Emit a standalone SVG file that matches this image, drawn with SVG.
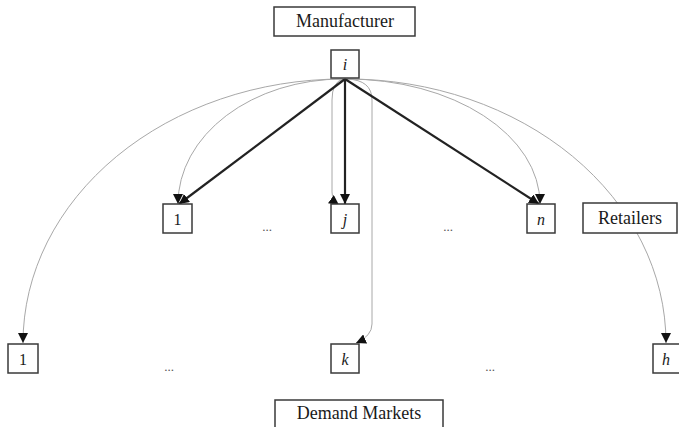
<svg xmlns="http://www.w3.org/2000/svg" width="679" height="427" viewBox="0 0 679 427">
  <style>
    .box { fill: #fff; stroke: #3a3a3a; stroke-width: 1.5; }
    .title { font-family: "Liberation Serif", "Times New Roman", serif; font-size: 18px; fill: #1a1a1a; text-anchor: middle; }
    .lbl { font-family: "Liberation Serif", "Times New Roman", serif; font-size: 16px; fill: #1a1a1a; text-anchor: middle; }
    .it { font-style: italic; }
    .dots { font-family: "Liberation Serif", "Times New Roman", serif; font-size: 13px; fill: #555; text-anchor: middle; }
    .thin { fill: none; stroke: #a8a8a8; stroke-width: 1; marker-end: url(#ah); }
    .thick { fill: none; stroke: #222; stroke-width: 2.2; marker-end: url(#ah); }
  </style>
  <defs>
    <marker id="ah" markerUnits="userSpaceOnUse" markerWidth="10" markerHeight="10" viewBox="0 0 10 10" refX="10" refY="5" orient="auto">
      <path d="M0,0 L10,5 L0,10 z" fill="#111"/>
    </marker>
  </defs>
  <rect width="679" height="427" fill="#fff"/>

  <!-- connectors -->
  <g id="connectors">
    <!-- manufacturer to demand markets -->
    <path class="thin" d="M343,79 A320,264 0 0 0 23,343"/>
    <path class="thin" d="M347,79 A319,264 0 0 1 666,343"/>
    <path class="thin" d="M347,79 Q372,80 372,100 L372,324 Q372,336 356,343"/>
    <!-- manufacturer to retailers, thin curved routes -->
    <path class="thin" d="M343,79 A165,125 0 0 0 178,204"/>
    <path class="thin" d="M347,79 A193,125 0 0 1 540,204"/>
    <path class="thin" d="M343,79 Q332,82 332,100 L332,192 Q332,200 339,205"/>
    <!-- manufacturer to retailers, direct routes -->
    <path class="thick" d="M345,79 L179,204"/>
    <path class="thick" d="M345,79 L345,204"/>
    <path class="thick" d="M345,79 L539,204"/>
  </g>

  <!-- tier titles -->
  <g id="title-manufacturer">
    <rect class="box" x="274" y="7" width="141" height="29"/>
    <text class="title" x="345" y="27">Manufacturer</text>
  </g>
  <g id="title-retailers">
    <rect class="box" x="583" y="203" width="94" height="30"/>
    <text class="title" x="630" y="224">Retailers</text>
  </g>
  <g id="title-demand">
    <rect class="box" x="275" y="400" width="168" height="30"/>
    <text class="title" x="359" y="419">Demand Markets</text>
  </g>

  <!-- manufacturer node -->
  <g id="node-i">
    <rect class="box" x="331" y="50" width="28" height="28"/>
    <text class="lbl it" x="345" y="70">i</text>
  </g>

  <!-- retailer nodes -->
  <g id="node-r1">
    <rect class="box" x="163" y="204" width="29" height="29"/>
    <text class="lbl" x="177.5" y="225">1</text>
  </g>
  <g id="node-rj">
    <rect class="box" x="331" y="204" width="28" height="29"/>
    <text class="lbl it" x="345" y="225">j</text>
  </g>
  <g id="node-rn">
    <rect class="box" x="527" y="204" width="28" height="29"/>
    <text class="lbl it" x="541" y="225">n</text>
  </g>
  <text class="dots" x="267" y="231">...</text>
  <text class="dots" x="448" y="231">...</text>

  <!-- demand market nodes -->
  <g id="node-d1">
    <rect class="box" x="8" y="344" width="30" height="29"/>
    <text class="lbl" x="23" y="365">1</text>
  </g>
  <g id="node-dk">
    <rect class="box" x="331" y="344" width="28" height="29"/>
    <text class="lbl it" x="345" y="365">k</text>
  </g>
  <g id="node-dh">
    <rect class="box" x="653" y="344" width="28" height="29"/>
    <text class="lbl it" x="666" y="365">h</text>
  </g>
  <text class="dots" x="169" y="371">...</text>
  <text class="dots" x="490" y="371">...</text>
</svg>
